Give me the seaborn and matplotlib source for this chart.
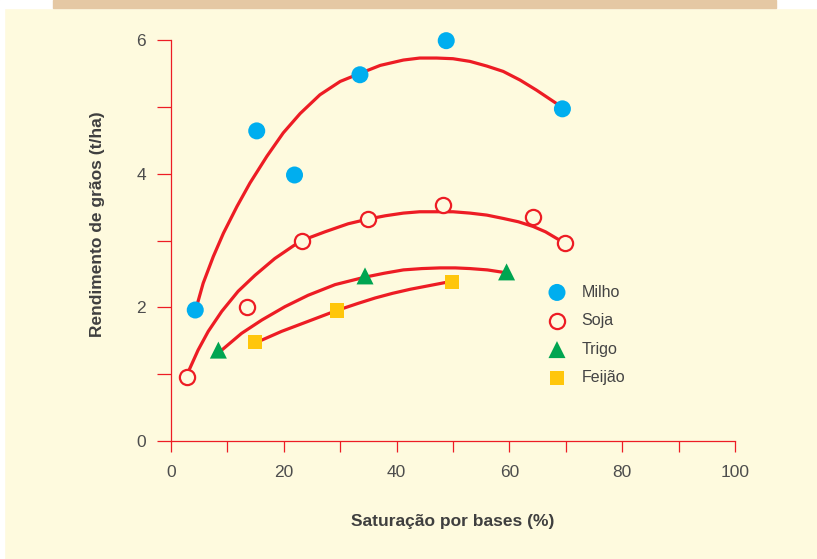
import matplotlib
matplotlib.use("Agg")
import matplotlib.pyplot as plt
import seaborn as sns
from matplotlib.patches import Rectangle
from matplotlib.ticker import MultipleLocator

# measured points
milho_x = [4.3, 15.2, 21.9, 33.5, 48.8, 69.4]
milho_y = [1.96, 4.64, 3.98, 5.48, 5.99, 4.97]
soja_x = [2.8, 13.4, 23.3, 35.0, 48.3, 64.2, 69.9]
soja_y = [0.96, 2.00, 3.00, 3.32, 3.53, 3.35, 2.96]
trigo_x = [8.4, 34.4, 59.5]
trigo_y = [1.36, 2.47, 2.53]
feijao_x = [14.9, 29.4, 49.8]
feijao_y = [1.48, 1.95, 2.38]

# fitted curves
milho_cx = [4.7, 5.7, 7.5, 9.3, 11.7, 14.0, 17.0, 19.9, 22.9, 26.4, 30.0, 33.5, 37.1,
            41.2, 44.1, 47.1, 50.0, 53.0, 56.0, 58.9, 61.9, 64.8, 68.7]
milho_cy = [2.06, 2.36, 2.76, 3.11, 3.51, 3.86, 4.26, 4.61, 4.90, 5.18, 5.38, 5.50, 5.62,
            5.70, 5.73, 5.73, 5.72, 5.68, 5.61, 5.53, 5.40, 5.25, 5.03]
soja_cx = [3.2, 4.8, 6.6, 9.0, 11.9, 14.9, 18.4, 21.7, 23.2, 27.3, 31.4, 34.9, 38.0,
           41.2, 44.1, 47.1, 50.0, 53.0, 56.0, 58.9, 61.6, 64.2, 66.4, 68.4, 69.9]
soja_cy = [1.06, 1.36, 1.64, 1.94, 2.24, 2.48, 2.73, 2.92, 3.00, 3.13, 3.25, 3.32, 3.37,
           3.41, 3.43, 3.43, 3.43, 3.41, 3.38, 3.33, 3.28, 3.21, 3.13, 3.03, 2.96]
trigo_cx = [9.0, 12.5, 16.1, 20.2, 24.3, 29.1, 34.3, 37.8, 41.2, 44.5, 47.7, 50.4, 53.0, 56.1, 59.2]
trigo_cy = [1.36, 1.61, 1.81, 2.01, 2.18, 2.34, 2.45, 2.51, 2.56, 2.58, 2.59, 2.59, 2.58, 2.56, 2.52]
feijao_cx = [16.1, 19.6, 24.3, 29.3, 33.2, 36.2, 39.3, 42.4, 46.1, 49.8]
feijao_cy = [1.51, 1.64, 1.79, 1.95, 2.06, 2.14, 2.21, 2.27, 2.33, 2.39]

bg = "#FEFADE"
red = "#ED1C24"
txt = "#4D4D4D"

sns.set_style("white")
plt.rcParams["font.family"] = ["Liberation Sans", "DejaVu Sans"]

fig = plt.figure(figsize=(8.17, 5.59), dpi=100, facecolor=bg)
W, H = 817, 559
# white strips and tan band at the top
fig.patches.append(Rectangle((0, 0), 4 / W, 1, transform=fig.transFigure, color="white", zorder=0))
fig.patches.append(Rectangle((0, 1 - 8 / H), 1, 8 / H, transform=fig.transFigure, color="white", zorder=0))
fig.patches.append(Rectangle((53 / W, 1 - 8 / H), 723 / W, 8 / H, transform=fig.transFigure,
                             color="#E5C8A4", zorder=1))

ax = fig.add_axes([171 / W, (H - 441) / H, 564 / W, 401 / H])
ax.set_facecolor(bg)
ax.patch.set_alpha(0)

for cx, cy in [(milho_cx, milho_cy), (soja_cx, soja_cy), (trigo_cx, trigo_cy), (feijao_cx, feijao_cy)]:
    sns.lineplot(x=cx, y=cy, color=red, linewidth=2.3, ax=ax, zorder=2,
                 solid_joinstyle="round", solid_capstyle="round")

sns.scatterplot(x=milho_x, y=milho_y, marker="o", s=150, color="#00AEEF", edgecolor="none",
                label="Milho", ax=ax, zorder=3, clip_on=False)
sns.scatterplot(x=soja_x, y=soja_y, marker="o", s=120, facecolor=bg, edgecolor=red,
                linewidth=1.6, label="Soja", ax=ax, zorder=3, clip_on=False)
sns.scatterplot(x=trigo_x, y=trigo_y, marker="^", s=150, color="#00A551", edgecolor="none",
                label="Trigo", ax=ax, zorder=3, clip_on=False)
sns.scatterplot(x=feijao_x, y=feijao_y, marker="s", s=110, color="#FFC60B", edgecolor="none",
                label="Feijão", ax=ax, zorder=3, clip_on=False)

ax.set_xlim(0, 100)
ax.set_ylim(0, 6)
ax.xaxis.set_major_locator(MultipleLocator(20))
ax.xaxis.set_minor_locator(MultipleLocator(10))
ax.yaxis.set_major_locator(MultipleLocator(2))
ax.yaxis.set_minor_locator(MultipleLocator(1))

for side in ["top", "right"]:
    ax.spines[side].set_visible(False)
for side in ["left", "bottom"]:
    ax.spines[side].set_color(red)
    ax.spines[side].set_linewidth(0.9)

ax.tick_params(axis="x", which="both", bottom=True, direction="out", length=8, width=0.9, color=red,
               labelsize=12.5, labelcolor=txt, pad=9)
ax.tick_params(axis="y", which="both", left=True, direction="out", length=10, width=0.9, color=red,
               labelsize=12.5, labelcolor=txt, pad=8)
ax.tick_params(which="minor", labelleft=False, labelbottom=False)

ax.set_xlabel("Saturação por bases (%)", fontsize=12.5, fontweight="bold", color="#3F3F3F", va="center")
ax.set_ylabel("Rendimento de grãos (t/ha)", fontsize=12.5, fontweight="bold", color="#3F3F3F", va="center")
ax.xaxis.set_label_coords(0.5, -0.2)
ax.yaxis.set_label_coords(-0.131, 0.54)

leg = ax.legend(loc="center left", bbox_to_anchor=(549 / W, 1 - 335 / H), bbox_transform=fig.transFigure,
                frameon=False, fontsize=11.5, handlelength=1.0, handletextpad=1.05,
                labelspacing=0.85, borderpad=0, borderaxespad=0)
for t in leg.get_texts():
    t.set_color("#444444")

fig.savefig("out.png", dpi=100, facecolor=bg)
